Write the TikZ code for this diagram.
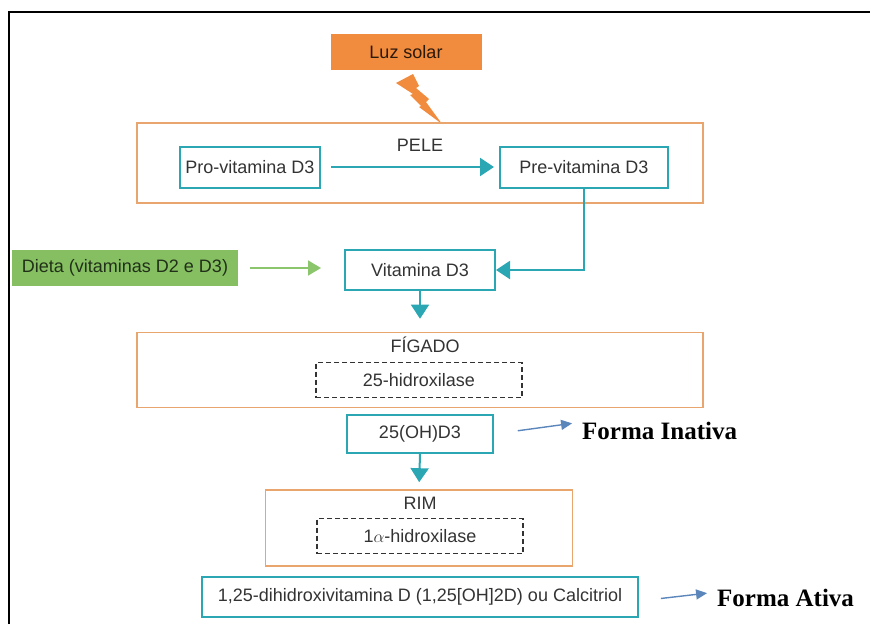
\documentclass[tikz,border=0pt]{standalone}
\usepackage{fontspec}
\setmainfont{Liberation Sans}
\newfontfamily\formafont{Liberation Serif}
\usetikzlibrary{arrows.meta}

\definecolor{tealbox}{HTML}{2BA7B3}
\definecolor{orgline}{HTML}{E9A56E}
\definecolor{orgfill}{HTML}{F18B3D}
\definecolor{grnfill}{HTML}{86BF62}
\definecolor{grnarrow}{HTML}{8CC66C}
\definecolor{bluearrow}{HTML}{5A86BC}
\definecolor{txtgray}{HTML}{333333}

\tikzset{
  txt/.style={font=\fontsize{18}{20}\selectfont, text=txtgray},
  tealnode/.style={txt, draw=tealbox, line width=2pt, inner sep=0pt},
  organ/.style={draw=orgline, line width=1.6pt, inner sep=0pt},
  enzyme/.style={txt, draw=txtgray, dashed, dash pattern=on 5pt off 3pt, line width=1.3pt, inner sep=0pt},
  tealarrow/.style={draw=tealbox, line width=2pt, -{Triangle[length=14pt,width=18pt]}},
  bluearr/.style={draw=bluearrow, line width=1.4pt, -{Triangle[length=11pt,width=10pt]}},
  forma/.style={font=\formafont\bfseries\fontsize{25}{28}\selectfont, anchor=west, inner sep=0pt}
}

\begin{document}
\begin{tikzpicture}[x=1pt, y=-1pt]
  \useasboundingbox (0,0) rectangle (870,624);
  \draw[black, line width=1.8pt] (9,624) -- (9,12) -- (870,12);

  % sun
  \node[fill=orgfill, minimum width=151pt, minimum height=36pt, inner sep=0pt,
        font=\fontsize{18}{20}\selectfont, text=black!70!orgfill!60!black] (luz) at (406,52) {Luz solar};
  \fill[orgfill] (396,83) -- (413,74) -- (419,86) -- (416,88) -- (429,99) -- (426,102)
                 -- (442,124) -- (419,107) -- (421,106) -- (410,95) -- (413,94) -- cycle;

  % skin
  \node[organ, minimum width=566pt, minimum height=80pt] (pele) at (420,163) {};
  \node[txt] (pelelbl) at (420,145) {PELE};
  \node[tealnode, minimum width=140pt, minimum height=41pt] (pro) at (250,167) {Pro-vitamina D3};
  \node[tealnode, minimum width=168pt, minimum height=41pt] (pre) at (584,167) {Pre-vitamina D3};
  \draw[tealarrow, shorten <=10pt, shorten >=5pt] (pro.east) -- (pre.west);

  % diet and vitamin D3
  \node[fill=grnfill, minimum width=226pt, minimum height=36pt, inner sep=0pt,
        font=\fontsize{18}{20}\selectfont, text=black!75!grnfill] (dieta) at (125,268) {Dieta (vitaminas D2 e D3)};
  \node[tealnode, minimum width=150pt, minimum height=40pt] (vitd) at (420,270) {Vitamina D3};
  \draw[draw=grnarrow, line width=1.6pt, -{Triangle[length=13pt,width=15pt]}, shorten <=12pt, shorten >=23pt]
    (dieta.east) -- (vitd.west |- dieta.east);
  \draw[tealarrow] (pre.south) |- (vitd.east);

  % liver
  \node[organ, minimum width=566pt, minimum height=75pt] (figado) at (420,370) {};
  \node[txt] (figlbl) at (425,345) {FÍGADO};
  \node[enzyme, minimum width=206pt, minimum height=35pt] (hidrox25) at (419,380) {25-hidroxilase};
  \draw[tealarrow, shorten >=13pt] (vitd.south) -- (figado.north);

  \node[tealnode, minimum width=146pt, minimum height=38pt] (ohd) at (420,434) {25(OH)D3};
  \node[forma] (inativa) at (582,431) {Forma Inativa};
  \draw[bluearr, shorten <=24pt, shorten >=10pt] (ohd.east) -- ([yshift=9pt]inativa.west);

  % kidney
  \node[organ, minimum width=307pt, minimum height=76pt] (rim) at (419,528) {};
  \node[txt] (rimlbl) at (420,503) {RIM};
  \node[enzyme, minimum width=206pt, minimum height=35pt] (hidrox1) at (420,536) {1$\alpha$-hidroxilase};
  \draw[tealarrow, shorten >=7pt] (ohd.south) -- (rim.north);

  \node[tealnode, minimum width=436pt, minimum height=40pt] (calc) at (420,597) {1,25-dihidroxivitamina D (1,25[OH]2D) ou Calcitriol};
  \node[forma] (ativa) at (717,598) {Forma Ativa};
  \draw[bluearr, shorten <=22pt, shorten >=10pt] ([yshift=-4pt]calc.east) -- ([yshift=6pt]ativa.west);
\end{tikzpicture}
\end{document}
